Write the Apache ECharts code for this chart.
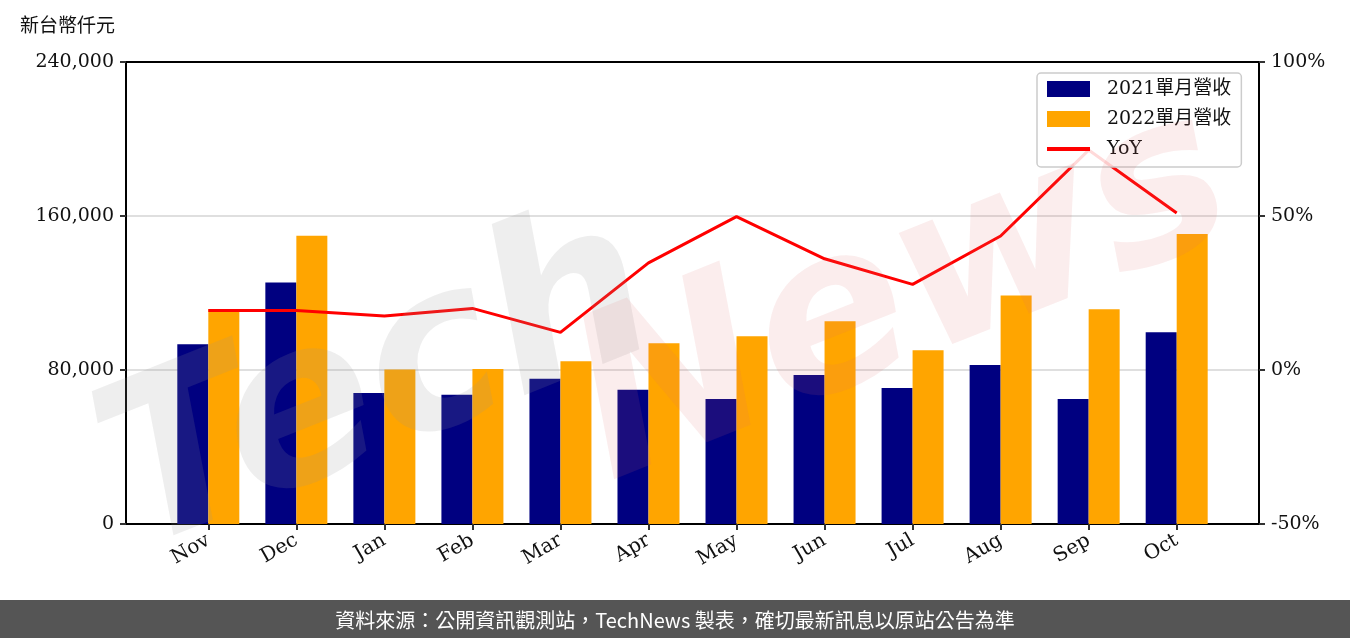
<!DOCTYPE html>
<html><head><meta charset="utf-8">
<script src="https://cdn.jsdelivr.net/npm/echarts@6/dist/echarts.min.js"></script>
<style>html,body{margin:0;padding:0;background:#fff}#c{width:1350px;height:638px}</style>
</head><body><div id="c"></div>
<script>
const categories = ['Nov','Dec','Jan','Feb','Mar','Apr','May','Jun','Jul','Aug','Sep','Oct'];
const rev2021 = [93400,125400,68100,67100,75400,69700,65000,77400,70700,82600,65000,99600];
const rev2022 = [111500,149700,80300,80500,84600,93900,97500,105300,90300,118700,111500,150700];
const yoy = [19.3,19.3,17.5,20.0,12.2,34.8,49.8,36.1,27.8,43.5,71.4,51.0];
const leftTicks = [0,80000,160000,240000];
const rightTicks = [-50,0,50,100];

const serif = '"DejaVu Serif", "Noto Sans CJK TC", serif';
const chart = echarts.init(document.getElementById('c'), null, {renderer:'canvas'});
const idx = categories.map((_, i) => i);
chart.setOption({
  animation:false,
  backgroundColor:'#fff',
  grid:{left:126, right:91, top:62, bottom:114},
  legend:{
    orient:'vertical', left:1037, top:73,
    padding:[6,10,8,8],
    itemWidth:43, itemHeight:16, itemGap:10,
    backgroundColor:'rgba(255,255,255,0.85)',
    borderColor:'#cccccc', borderWidth:1.5, borderRadius:4,
    textStyle:{fontFamily:serif, fontSize:19, color:'#111', lineHeight:20, padding:[0,0,0,12]},
    data:[{name:'2021單月營收', icon:'rect'},{name:'2022單月營收', icon:'rect'},
          {name:'YoY', itemStyle:{opacity:0, borderWidth:0}, lineStyle:{width:4, color:'#ff0000'}}],
    z:20
  },
  xAxis:[{
    type:'value', min:-0.935, max:11.935,
    axisLine:{show:true, onZero:false, lineStyle:{color:'#000', width:2}},
    axisTick:{show:true, customValues:idx, length:6, lineStyle:{color:'#333', width:2}},
    axisLabel:{customValues:idx, formatter:v => categories[Math.round(v)], rotate:30,
      fontFamily:serif, fontSize:20, color:'#111', margin:15},
    splitLine:{show:false}
  },{
    type:'value', position:'top', min:-0.935, max:11.935,
    axisLine:{show:true, onZero:false, lineStyle:{color:'#000', width:2}},
    axisTick:{show:false}, axisLabel:{show:false}, splitLine:{show:false}
  }],
  yAxis:[{
    type:'value', min:leftTicks[0], max:leftTicks[leftTicks.length-1], interval:80000,
    axisLine:{show:true, onZero:false, lineStyle:{color:'#000', width:2}},
    axisTick:{show:true, length:6, lineStyle:{color:'#333', width:2}},
    axisLabel:{fontFamily:serif, fontSize:19, color:'#111', margin:12,
      formatter:v => v.toLocaleString('en-US')},
    splitLine:{show:true, lineStyle:{color:'#d4d4d4', width:1.5}}
  },{
    type:'value', min:rightTicks[0], max:rightTicks[rightTicks.length-1], interval:50,
    position:'right',
    axisLine:{show:true, onZero:false, lineStyle:{color:'#000', width:2}},
    axisTick:{show:true, length:6, lineStyle:{color:'#333', width:2}},
    axisLabel:{fontFamily:serif, fontSize:19, color:'#111', margin:12, formatter:v => v + '%'},
    splitLine:{show:false}
  }],
  series:[
    {name:'2021單月營收', type:'bar', barWidth:31, barGap:'0%', itemStyle:{color:'#000080'},
     data:rev2021.map((v,i)=>[i,v])},
    {name:'2022單月營收', type:'bar', barWidth:31, barGap:'0%', itemStyle:{color:'#FFA500'},
     data:rev2022.map((v,i)=>[i,v])},
    {name:'YoY', type:'line', yAxisIndex:1, symbol:'none', color:'#ff0000',
     lineStyle:{color:'#ff0000', width:3}, data:yoy.map((v,i)=>[i,v]), z:5}
  ],
  graphic:[
    {type:'text', left:20, top:15, style:{text:'新台幣仟元', font:'19px "Noto Sans CJK TC"', fill:'#111'}},
    {type:'text', x:380, y:390, rotation:0.38, z:50, silent:true,
     style:{text:'Tech', font:'italic bold 225px "DejaVu Sans"', fill:'rgba(150,150,150,0.16)', align:'center', verticalAlign:'middle'}},
    {type:'text', x:905, y:300, rotation:0.38, z:50, silent:true,
     style:{text:'News', font:'italic bold 225px "DejaVu Sans"', fill:'rgba(225,110,110,0.12)', align:'center', verticalAlign:'middle'}},
    {type:'rect', shape:{x:0, y:600, width:1350, height:38}, style:{fill:'#555555'}, z:60},
    {type:'text', x:675, y:620, z:61, style:{text:'資料來源：公開資訊觀測站，TechNews 製表，確切最新訊息以原站公告為準',
      font:'20px "Noto Sans CJK TC"', fill:'#ffffff', align:'center', verticalAlign:'middle'}}
  ]
});
</script></body></html>
